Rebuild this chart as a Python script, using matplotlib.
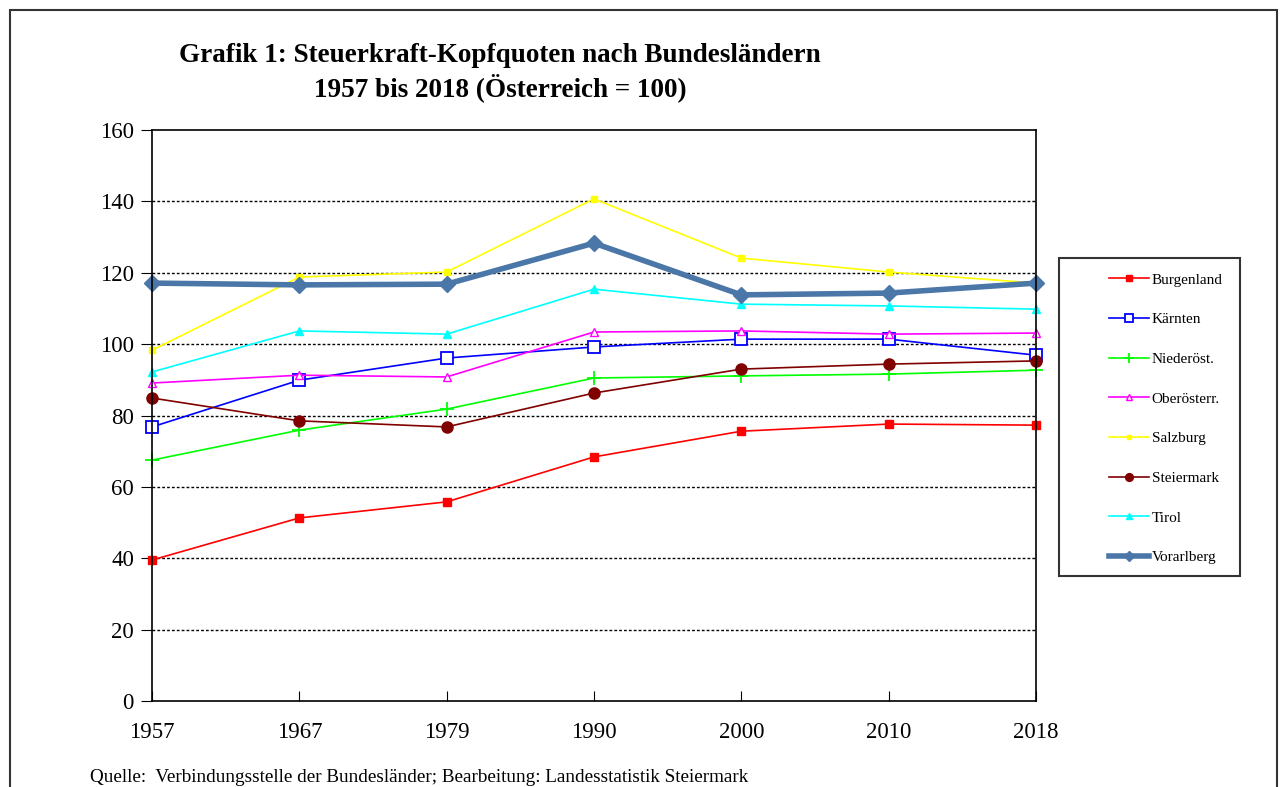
import matplotlib
matplotlib.use('Agg')
import matplotlib.pyplot as plt
from matplotlib.patches import Rectangle

plt.rcParams['font.family'] = ['Liberation Serif', 'DejaVu Serif']

# Daten: Steuerkraft-Kopfquoten (Österreich = 100)
years = ['1957', '1967', '1979', '1990', '2000', '2010', '2018']
burgenland = [39.5, 51.3, 55.8, 68.4, 75.6, 77.6, 77.3]
kaernten = [76.8, 89.9, 96.1, 99.2, 101.4, 101.4, 96.9]
niederoest = [67.5, 75.9, 81.8, 90.5, 91.1, 91.6, 92.7]
oberoest = [89.1, 91.3, 90.8, 103.4, 103.7, 102.8, 103.1]
salzburg = [98.3, 118.8, 120.2, 140.7, 124.1, 120.2, 117.1]
steiermark = [84.9, 78.5, 76.8, 86.3, 93.0, 94.4, 95.3]
tirol = [92.2, 103.7, 102.8, 115.4, 111.2, 110.7, 109.8]
vorarlberg = [117.1, 116.6, 116.8, 128.3, 113.8, 114.3, 117.1]

W, H = 1284, 787
fig = plt.figure(figsize=(W / 100, H / 100), dpi=100)
ax = fig.add_axes([152 / W, 1 - 701 / H, 884 / W, 571 / H])

x = range(len(years))
kw = dict(clip_on=False)
ax.plot(x, burgenland, color='#FF0000', lw=1.2, marker='s', ms=6, label='Burgenland', **kw)
ax.plot(x, kaernten, color='#0000FF', lw=1.2, marker='s', ms=8, mfc='white',
        mew=1.3, label='Kärnten', **kw)
ax.plot(x, niederoest, color='#00FF00', lw=1.2, marker='+', ms=10, mew=1.3,
        label='Niederöst.', **kw)
ax.plot(x, oberoest, color='#FF00FF', lw=1.2, marker='^', ms=6, mfc='white',
        mew=1.0, label='Oberösterr.', **kw)
ax.plot(x, salzburg, color='#FFFF00', lw=1.2, marker='s', ms=5, label='Salzburg', **kw)
ax.plot(x, steiermark, color='#800000', lw=1.2, marker='o', ms=8, label='Steiermark', **kw)
ax.plot(x, tirol, color='#00FFFF', lw=1.2, marker='^', ms=6, label='Tirol', **kw)
ax.plot(x, vorarlberg, color='#4A76A8', lw=4, marker='D', ms=8, label='Vorarlberg', **kw)

ax.set_xlim(0, len(years) - 1)
ax.set_ylim(0, 160)
ax.set_xticks(list(x))
ax.set_xticklabels(years)
ax.set_yticks(range(0, 161, 20))
ax.tick_params(axis='x', direction='in', length=7, labelsize=16.5, pad=15)
ax.tick_params(axis='y', direction='out', length=8, labelsize=16.5, pad=5)
for yv in range(20, 160, 20):
    ax.axhline(yv, color='black', lw=1, ls=(0, (2, 1.5)), zorder=0)
for s in ax.spines.values():
    s.set_linewidth(1.2)

fig.text(500 / W, 1 - 55 / H, 'Grafik 1: Steuerkraft-Kopfquoten nach Bundesländern',
         ha='center', va='center', fontsize=19.5, fontweight='bold')
fig.text(500 / W, 1 - 88 / H, '1957 bis 2018 (Österreich = 100)',
         ha='center', va='center', fontsize=19.5, fontweight='bold')

# Legende mit eigenem Rahmen
fig.patches.append(Rectangle((1059 / W, 1 - 576 / H), 181 / W, 318 / H,
                             transform=fig.transFigure, fill=False,
                             edgecolor='#333333', lw=1.5))
fig.legend(loc='upper left', bbox_to_anchor=(1109 / W, 1 - 273 / H),
           frameon=False, fontsize=11, handlelength=2.6, handletextpad=0.2,
           labelspacing=1.70, borderaxespad=0, borderpad=0, markerscale=0.7)

# äußerer Rahmen
fig.patches.append(Rectangle((10 / W, -0.01), 1267 / W, 1 - 10 / H + 0.01,
                             transform=fig.transFigure, fill=False,
                             edgecolor='#333333', lw=1.5))

fig.text(90 / W, 1 - 777 / H,
         'Quelle:  Verbindungsstelle der Bundesländer; Bearbeitung: Landesstatistik Steiermark',
         ha='left', va='center', fontsize=13.8)

fig.savefig('out.png', dpi=100)
plt.close()
